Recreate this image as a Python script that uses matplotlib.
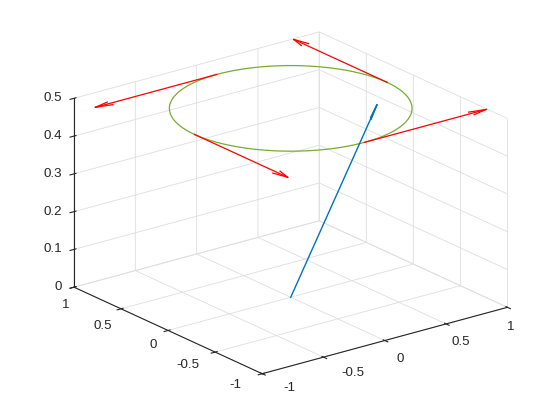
import numpy as np
import matplotlib
matplotlib.use('Agg')
import matplotlib.pyplot as plt
from matplotlib.ticker import NullFormatter
from matplotlib.transforms import Affine2D

plt.rcParams['font.family'] = ['Liberation Sans', 'DejaVu Sans']

# ring of the precessing vector
ring_radius = 0.785
ring_height = 0.5
ring_angle = np.linspace(0, 2 * np.pi, 200)

# tangent (red) arrows on the ring
red_x = [0.785, 0.0, -0.785, 0.0]
red_y = [0.0, 0.785, 0.0, -0.785]
red_z = [0.5, 0.5, 0.5, 0.5]
red_u = [0.0, -0.99, 0.0, 0.99]
red_v = [0.99, 0.0, -0.99, 0.0]
red_w = [0.0, 0.0, 0.0, 0.0]

# blue vector from the origin
blue_start = [0.0, 0.0, 0.0]
blue_vec = [0.48, -0.29, 0.5]

x_ticks = [-1, -0.5, 0, 0.5, 1]
y_ticks = [-1, -0.5, 0, 0.5, 1]
z_ticks = [0, 0.1, 0.2, 0.3, 0.4, 0.5]
x_labels = ['-1', '-0.5', '0', '0.5', '1']
y_labels = ['-1', '-0.5', '0', '0.5', '1']
z_labels = ['0', '0.1', '0.2', '0.3', '0.4', '0.5']

# pixel offsets of the labels from their ticks, the way matlab lays them out
x_nudge = [(27, 14), (29, 16), (15, 18), (15, 18), (3, 20)]
y_nudge = [(-27, 11), (-27, 13), (-15, 15), (-18, 17), (-8, 18)]
z_nudge = (-12, 0)


def arrow3(ax, p, d, color, head=0.12, width=0.25, lw=0.9):
    p = np.asarray(p, float)
    d = np.asarray(d, float)
    tip = p + d
    ax.plot([p[0], tip[0]], [p[1], tip[1]], [p[2], tip[2]], color=color, lw=lw)
    perp = np.cross(d, [0, 0, 1])
    if np.linalg.norm(perp) < 1e-9:
        perp = np.array([1.0, 0, 0])
    perp = perp / np.linalg.norm(perp) * np.linalg.norm(d)
    back = tip - head * d
    for s in (1, -1):
        q = back + s * head * width * perp
        ax.plot([tip[0], q[0]], [tip[1], q[1]], [tip[2], q[2]], color=color, lw=lw)


def tick_label(ax, x, y, z, s, dx, dy, ha='center'):
    ax.text(x, y, z, s, transform=ax.transData + Affine2D().translate(dx, -dy),
            ha=ha, va='center', fontsize=9.6, color='#262626')


fig = plt.figure(figsize=(5.6, 4.2), dpi=100)
ax = fig.add_axes([0.009, 0.0036, 1, 1], projection='3d', proj_type='ortho')
ax.view_init(elev=20.66, azim=-127.5)
ax.set_box_aspect((1, 1, 0.653), zoom=1.113)

ax.plot(ring_radius * np.cos(ring_angle), ring_radius * np.sin(ring_angle),
        np.full_like(ring_angle, ring_height), color='#77AC30', lw=0.9)
for i in range(len(red_x)):
    arrow3(ax, [red_x[i], red_y[i], red_z[i]], [red_u[i], red_v[i], red_w[i]], 'red')
arrow3(ax, blue_start, blue_vec, '#0072BD', head=0.07, width=0.3, lw=1.0)

ax.set_xlim(-1, 1)
ax.set_ylim(-1, 1)
ax.set_zlim(0, 0.5)
ax.set_xticks(x_ticks)
ax.set_yticks(y_ticks)
ax.set_zticks(z_ticks)

for axis in (ax.xaxis, ax.yaxis, ax.zaxis):
    axis.set_pane_color((1, 1, 1, 0))
    axis._axinfo['grid']['color'] = '#dedede'
    axis._axinfo['grid']['linewidth'] = 0.6
    axis.line.set_color('#262626')
    axis.set_tick_params(colors='#262626', labelbottom=False, labelleft=False)
    axis.set_major_formatter(NullFormatter())
    axis.label.set_visible(False)
    axis.offsetText.set_visible(False)

for t, s, (dx, dy) in zip(x_ticks, x_labels, x_nudge):
    tick_label(ax, t, -1, 0, s, dx, dy)
for t, s, (dx, dy) in zip(y_ticks, y_labels, y_nudge):
    tick_label(ax, -1, t, 0, s, dx, dy)
for t, s in zip(z_ticks, z_labels):
    tick_label(ax, -1, 1, t, s, z_nudge[0], z_nudge[1], ha='right')

fig.savefig('out.png', dpi=100)
